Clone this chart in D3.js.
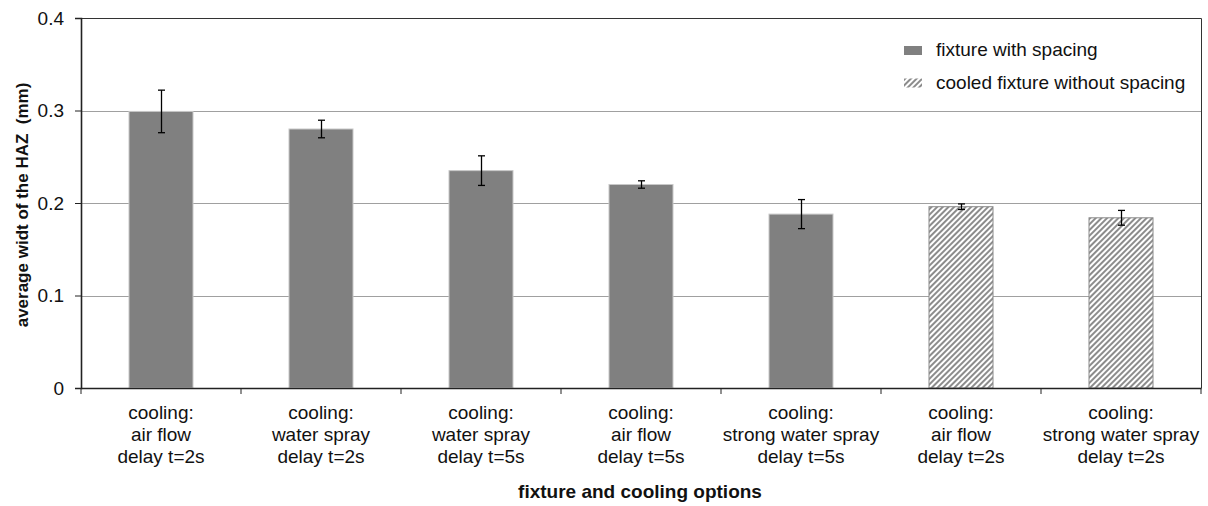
<!DOCTYPE html>
<html>
<head>
<meta charset="utf-8">
<script src="https://cdn.jsdelivr.net/npm/d3@7"></script>
<style>
  html, body { margin: 0; padding: 0; background: #fff; }
  svg { display: block; font-family: "Liberation Sans", Arial, sans-serif; }
</style>
</head>
<body>
<svg id="chart" width="1208" height="506"></svg>
<script>
// Category labels (three lines each)
const categories = [
  ["cooling:", "air flow", "delay t=2s"],
  ["cooling:", "water spray", "delay t=2s"],
  ["cooling:", "water spray", "delay t=5s"],
  ["cooling:", "air flow", "delay t=5s"],
  ["cooling:", "strong water spray", "delay t=5s"],
  ["cooling:", "air flow", "delay t=2s"],
  ["cooling:", "strong water spray", "delay t=2s"]
];
// Mean HAZ width (mm) and error bar half-widths
const values = [0.299, 0.280, 0.235, 0.220, 0.188, 0.196, 0.184];
const errors = [0.023, 0.0095, 0.016, 0.004, 0.0157, 0.003, 0.008];
// Series each bar belongs to
const seriesOf = [0, 0, 0, 0, 0, 1, 1];
const seriesNames = ["fixture with spacing", "cooled fixture without spacing"];
const yTicks = [0, 0.1, 0.2, 0.3, 0.4];

const svg = d3.select("#chart");
const m = { left: 81, right: 1201, top: 18, bottom: 388 };
const FONT = "Liberation Sans, Arial, sans-serif";

const defs = svg.append("defs");
const pat = defs.append("pattern")
  .attr("id", "hatch").attr("patternUnits", "userSpaceOnUse")
  .attr("width", 4).attr("height", 4)
  .attr("patternTransform", "rotate(45)");
pat.append("rect").attr("width", 4).attr("height", 4).attr("fill", "#fff");
pat.append("rect").attr("x", 0).attr("width", 2).attr("height", 4).attr("fill", "#8c8c8c");

const x = d3.scaleBand().domain(d3.range(categories.length))
  .range([m.left, m.right]).paddingInner(0).paddingOuter(0);
const y = d3.scaleLinear().domain([0, 0.4]).range([m.bottom, m.top]);
const barW = x.bandwidth() * 0.4;

// Gridlines
svg.append("g").selectAll("line").data(yTicks.filter(t => t > 0 && t < 0.4)).join("line")
  .attr("x1", m.left).attr("x2", m.right)
  .attr("y1", d => Math.round(y(d)) + 0.5).attr("y2", d => Math.round(y(d)) + 0.5)
  .attr("stroke", "#a0a0a0").attr("stroke-width", 1);

// Plot frame (top and right)
svg.append("path")
  .attr("d", `M${m.left},${m.top + 0.5}H${m.right + 0.5}V${m.bottom}`)
  .attr("fill", "none").attr("stroke", "#333").attr("stroke-width", 1);

// Bars
svg.append("g").selectAll("rect").data(values).join("rect")
  .attr("x", (d, i) => x(i) + (x.bandwidth() - barW) / 2)
  .attr("width", barW)
  .attr("y", d => y(d))
  .attr("height", d => y(0) - y(d))
  .attr("fill", (d, i) => seriesOf[i] === 0 ? "#808080" : "url(#hatch)")
  .attr("stroke", (d, i) => seriesOf[i] === 0 ? "#c8c8c8" : "#8a8a8a")
  .attr("stroke-width", 1);

// Error bars
const eb = svg.append("g").attr("stroke", "#000").attr("stroke-width", 1.3);
values.forEach((v, i) => {
  const cx = Math.round(x(i) + x.bandwidth() / 2) + 0.5;
  const yt = y(v + errors[i]), yb = y(v - errors[i]);
  eb.append("line").attr("x1", cx).attr("x2", cx).attr("y1", yt).attr("y2", yb);
  eb.append("line").attr("x1", cx - 3.5).attr("x2", cx + 3.5).attr("y1", yt).attr("y2", yt);
  eb.append("line").attr("x1", cx - 3.5).attr("x2", cx + 3.5).attr("y1", yb).attr("y2", yb);
});

// Y axis
const yAxis = d3.axisLeft(y).tickValues(yTicks)
  .tickFormat(d => d === 0 ? "0" : d3.format(".1f")(d))
  .tickSize(6).tickPadding(11);
const gy = svg.append("g").attr("transform", `translate(${m.left},0)`).call(yAxis);
gy.select(".domain").attr("stroke", "#222").attr("stroke-width", 1.6);
gy.selectAll(".tick line").attr("stroke", "#222");
gy.selectAll(".tick text").attr("font-size", 19).attr("fill", "#111")
  .attr("font-family", FONT);

// X axis
const xAxis = d3.axisBottom(x).tickValues([]).tickSizeOuter(0);
const gx = svg.append("g").attr("transform", `translate(0,${m.bottom})`).call(xAxis);
gx.select(".domain").attr("stroke", "#222").attr("stroke-width", 1.6);
// Category boundary ticks
const bounds = d3.range(categories.length + 1).map(i => m.left + i * x.step());
gx.selectAll("line.bt").data(bounds).join("line").attr("class", "bt")
  .attr("x1", d => d).attr("x2", d => d).attr("y1", 0).attr("y2", 6)
  .attr("stroke", "#222");

// Category labels
const lab = svg.append("g").attr("font-size", 19).attr("fill", "#111").attr("text-anchor", "middle");
categories.forEach((lines, i) => {
  const cx = x(i) + x.bandwidth() / 2;
  lines.forEach((t, j) => {
    lab.append("text").attr("x", cx).attr("y", 419 + j * 22).text(t);
  });
});

// Axis titles
svg.append("text").attr("x", (m.left + m.right) / 2 - 1).attr("y", 498)
  .attr("text-anchor", "middle").attr("font-size", 19).attr("font-weight", "bold")
  .attr("fill", "#111").text("fixture and cooling options");
svg.append("text")
  .attr("transform", `translate(28,${(m.top + m.bottom) / 2 + 2}) rotate(-90)`)
  .attr("text-anchor", "middle").attr("font-size", 17).attr("font-weight", "bold")
  .attr("fill", "#111").style("white-space", "pre").text("average widt of the HAZ  (mm)");

// Legend
const lg = svg.append("g").attr("transform", "translate(904,46)");
seriesNames.forEach((name, i) => {
  const row = lg.append("g").attr("transform", `translate(0,${i * 32.5})`);
  row.append("rect").attr("x", 0).attr("y", 0).attr("width", 18).attr("height", 9)
    .attr("fill", i === 0 ? "#808080" : "url(#hatch)");
  row.append("text").attr("x", 32).attr("y", 10).attr("font-size", 19)
    .attr("fill", "#111").text(name);
});
</script>
</body>
</html>
